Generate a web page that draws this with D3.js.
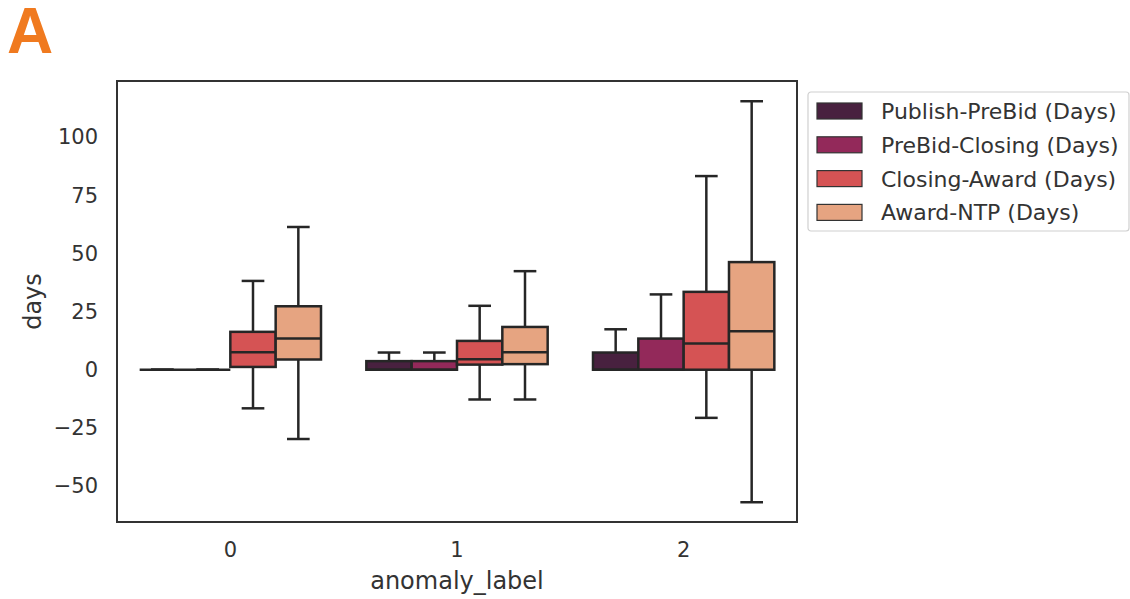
<!DOCTYPE html>
<html>
<head>
<meta charset="utf-8">
<script src="https://cdn.jsdelivr.net/npm/d3@7"></script>
<style>
  html, body { margin: 0; padding: 0; background: #fff; }
  svg { display: block; font-family: "DejaVu Sans", sans-serif; }
</style>
</head>
<body>
<svg id="chart" width="1130" height="599"></svg>
<script>
// Groups on the x axis and the four duration series (hue)
const groups = ["0", "1", "2"];
const series = ["Publish-PreBid (Days)", "PreBid-Closing (Days)", "Closing-Award (Days)", "Award-NTP (Days)"];
const colors = ["#48213f", "#93295a", "#d55354", "#e6a481"];
const yTicks = [-50, -25, 0, 25, 50, 75, 100];

// Box statistics per group, in series order: [lower whisker, q1, median, q3, upper whisker]
const stats0 = [
  [0, 0, 0, 0, 0],
  [0, 0, 0, 0, 0],
  [-16.6, 1.2, 7.5, 16.3, 38.2],
  [-29.8, 4.4, 13.4, 27.3, 61.4]
];
const stats1 = [
  [0, 0, 0, 3.7, 7.4],
  [0, 0, 0, 3.7, 7.4],
  [-12.8, 2.2, 4.5, 12.4, 27.5],
  [-12.8, 2.4, 7.5, 18.4, 42.4]
];
const stats2 = [
  [0, 0, 0, 7.4, 17.4],
  [0, 0, 0, 13.4, 32.4],
  [-20.7, 0, 11.3, 33.5, 83.3],
  [-57.0, 0, 16.6, 46.3, 115.5]
];
const allStats = [stats0, stats1, stats2];

const svg = d3.select("#chart");
const plot = { left: 117, top: 81, right: 797, bottom: 522 };
const ink = "#262626";
const textInk = "#333";

const x = d3.scaleBand().domain(groups).range([plot.left, plot.right]).paddingInner(0).paddingOuter(0);
const y = d3.scaleLinear().domain([-65.5, 124.2]).range([plot.bottom, plot.top]);

// Hue offsets inside each group (80% of the band)
const inner = d3.scaleBand().domain(series).range([0, x.bandwidth() * 0.8]);
const groupOffset = x.bandwidth() * 0.1;

// Axes (tick marks hidden, labels only)
const yAxis = d3.axisLeft(y).tickValues(yTicks).tickSize(0).tickPadding(19)
  .tickFormat(d => d < 0 ? "\u2212" + Math.abs(d) : String(d));
svg.append("g").attr("transform", `translate(${plot.left},0)`).call(yAxis)
  .call(g => g.select(".domain").remove())
  .selectAll("text").attr("font-size", 21).attr("fill", textInk).attr("font-family", "DejaVu Sans");

const xAxis = d3.axisBottom(x).tickSize(0).tickPadding(20);
svg.append("g").attr("transform", `translate(0,${plot.bottom})`).call(xAxis)
  .call(g => g.select(".domain").remove())
  .selectAll("text").attr("font-size", 21).attr("fill", textInk).attr("font-family", "DejaVu Sans");

// Boxes
groups.forEach((grp, gi) => {
  const g = svg.append("g");
  series.forEach((s, si) => {
    const [lo, q1, med, q3, hi] = allStats[gi][si];
    const x0 = x(grp) + groupOffset + inner(s);
    const w = inner.bandwidth();
    const cx = x0 + w / 2;
    const capW = w * 0.5;
    // whiskers
    g.append("line").attr("x1", cx).attr("x2", cx).attr("y1", y(q3)).attr("y2", y(hi))
      .attr("stroke", ink).attr("stroke-width", 2.5);
    g.append("line").attr("x1", cx).attr("x2", cx).attr("y1", y(q1)).attr("y2", y(lo))
      .attr("stroke", ink).attr("stroke-width", 2.5);
    g.append("line").attr("x1", cx - capW / 2).attr("x2", cx + capW / 2).attr("y1", y(hi)).attr("y2", y(hi))
      .attr("stroke", ink).attr("stroke-width", 2.5);
    g.append("line").attr("x1", cx - capW / 2).attr("x2", cx + capW / 2).attr("y1", y(lo)).attr("y2", y(lo))
      .attr("stroke", ink).attr("stroke-width", 2.5);
    // box
    g.append("rect").attr("x", x0).attr("y", y(q3)).attr("width", w).attr("height", Math.max(0, y(q1) - y(q3)))
      .attr("fill", colors[si]).attr("stroke", ink).attr("stroke-width", 2.5);
    // median
    g.append("line").attr("x1", x0).attr("x2", x0 + w).attr("y1", y(med)).attr("y2", y(med))
      .attr("stroke", ink).attr("stroke-width", 2.5);
  });
});

// Frame
svg.append("rect").attr("x", plot.left).attr("y", plot.top)
  .attr("width", plot.right - plot.left).attr("height", plot.bottom - plot.top)
  .attr("fill", "none").attr("stroke", "#333").attr("stroke-width", 2);

// Axis titles
svg.append("text").attr("x", (plot.left + plot.right) / 2).attr("y", 589)
  .attr("text-anchor", "middle").attr("font-size", 24).attr("fill", textInk).text("anomaly_label");
svg.append("text").attr("transform", `translate(41,${(plot.top + plot.bottom) / 2}) rotate(-90)`)
  .attr("text-anchor", "middle").attr("font-size", 24).attr("fill", textInk).text("days");

// Legend
const legend = svg.append("g").attr("transform", "translate(808,92)");
legend.append("rect").attr("x", 0).attr("y", 0).attr("width", 321).attr("height", 139).attr("rx", 3)
  .attr("fill", "#fff").attr("stroke", "#d0d0d0").attr("stroke-width", 1.2);
series.forEach((s, i) => {
  const row = legend.append("g").attr("transform", `translate(0,${11 + i * 33.8})`);
  row.append("rect").attr("x", 9).attr("y", 0).attr("width", 45).attr("height", 16)
    .attr("fill", colors[i]).attr("stroke", "#333").attr("stroke-width", 1.2);
  row.append("text").attr("x", 73).attr("y", 16).attr("font-size", 22).attr("fill", textInk).text(s);
});

// Panel letter
svg.append("text").attr("x", 7).attr("y", 53).attr("font-family", "Liberation Sans, Arial, sans-serif")
  .attr("font-weight", "bold").attr("font-size", 64).attr("fill", "#f07a1f").text("A");
</script>
</body>
</html>
